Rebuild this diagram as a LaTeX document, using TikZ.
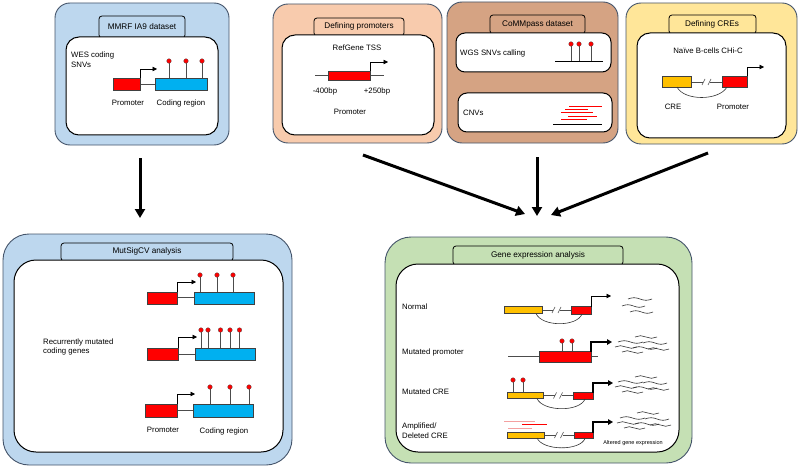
\documentclass[tikz,border=0pt]{standalone}
\usepackage{fontspec}
\setmainfont{Liberation Sans}
\usetikzlibrary{arrows.meta}
\definecolor{pblue}{HTML}{BDD7EE}
\definecolor{ppeach}{HTML}{F8CBAD}
\definecolor{pbrown}{HTML}{D5A383}
\definecolor{pyellow}{HTML}{FFE699}
\definecolor{pgreen}{HTML}{C5E0B4}
\definecolor{edgec}{HTML}{44546A}
\definecolor{gred}{HTML}{FF0000}
\definecolor{gblue}{HTML}{00B0F0}
\definecolor{gorange}{HTML}{FFC000}
\definecolor{cnvpink}{HTML}{F4A0A0}
\tikzset{
  panel/.style={draw=edgec, line width=0.9pt, rounded corners=15pt},
  bigpanel/.style={draw=edgec, line width=0.9pt, rounded corners=26pt},
  innerbox/.style={draw=black, fill=white, line width=1pt, rounded corners=13pt},
  biginner/.style={draw=black, fill=white, line width=1pt, rounded corners=22pt},
  tabbox/.style={draw=black, line width=0.8pt, rounded corners=3pt},
  redbox/.style={draw=black!75, fill=gred, line width=0.6pt},
  bluebox/.style={draw=black!75, fill=gblue, line width=0.6pt},
  orbox/.style={draw=black!75, fill=gorange, line width=0.6pt},
  conn/.style={draw=black!70, line width=0.6pt},
  stem/.style={draw=black!70, line width=0.6pt},
  tss/.style={draw=black, line width=0.6pt, -{Triangle[length=4.5pt,width=4.5pt]}},
  tssthick/.style={draw=black, line width=1.6pt, -{Triangle[length=5pt,width=5.5pt]}},
  flow/.style={draw=black, line width=3pt, -{Triangle[length=9pt,width=10pt]}},
  wave/.style={draw=black!80, line width=0.6pt},
  txt/.style={font=\fontsize{7.8}{9.6}\selectfont, inner sep=0pt},
  tabtxt/.style={font=\fontsize{8.2}{10}\selectfont, inner sep=0pt},
  tiny/.style={font=\fontsize{5.5}{6.5}\selectfont, inner sep=0pt}
}
\newcommand\lolli[3]{\draw[stem] (#1,#2) -- (#1,#3);
  \filldraw[fill=gred, draw=black!70, line width=0.3pt] (#1,#3) circle (2.3pt);}
\newcommand\brk[3]{%
  \draw[conn] (#1,#3) -- ({(#1+#2)/2-3.5},#3);
  \draw[conn] ({(#1+#2)/2+3.5},#3) -- (#2,#3);
  \draw[conn] ({(#1+#2)/2-4.5},{#3+3}) -- ({(#1+#2)/2-1.5},{#3-3});
  \draw[conn] ({(#1+#2)/2+1.5},{#3+3}) -- ({(#1+#2)/2+4.5},{#3-3});}
\newcommand\wv[3]{\draw[wave] (#1,#2) sin ++({#3/4},-1.3) cos ++({#3/4},1.3) sin ++({#3/4},1.3) cos ++({#3/4},-1.3);}
\newcommand\wvgroup[2]{%
  \wv{#1+20}{#2}{22}\wv{#1+3}{#2+5}{25}\wv{#1+28}{#2+6}{24}
  \wv{#1}{#2+10}{22}\wv{#1+18}{#2+11}{24}\wv{#1+33}{#2+12}{21}
  \wv{#1+7}{#2+15}{21}}
\begin{document}
\begin{tikzpicture}[x=1pt,y=-1pt]
\useasboundingbox (0,0) rectangle (800,468);

% ---------------- Panel 1: MMRF IA9 dataset
\draw[panel, fill=pblue] (55,3) rectangle (229,145);
\draw[tabbox, fill=pblue] (99,16) rectangle (185,38);
\draw[innerbox] (66,37) rectangle (218,135);
\node[tabtxt] (t1) at (142,27) {MMRF IA9 dataset};
\node[txt, anchor=west, align=left] (wes) at (71,60) {WES coding\\SNVs};
\draw[conn] (140,84) -- (155,84);
\draw[redbox] (113,78) rectangle (140,90);
\draw[bluebox] (155,78) rectangle (207,90);
\draw[tss] (140,78) -- (140,69) -- (157,69);
\lolli{169}{78}{61}\lolli{186}{78}{61}\lolli{202}{78}{61}
\node[txt] (p1prom) at (128,103) {Promoter};
\node[txt] (p1cod) at (181,103) {Coding region};

% ---------------- Panel 2: Defining promoters
\draw[panel, fill=ppeach] (273,4) rectangle (442,143);
\draw[tabbox, fill=ppeach] (314,18) rectangle (404,36);
\draw[innerbox] (282,35) rectangle (434,135);
\node[tabtxt] (t2) at (359,26.5) {Defining promoters};
\node[txt] (refg) at (357,48) {RefGene TSS};
\draw[conn] (315,75) -- (384,75);
\draw[redbox] (328,71) rectangle (370,80);
\draw[tss] (370,71) -- (370,62) -- (388,62);
\node[txt] (m400) at (325,91) {-400bp};
\node[txt] (p250) at (377,91) {+250bp};
\node[txt] (p2prom) at (350,112) {Promoter};

% ---------------- Panel 3: CoMMpass dataset
\draw[panel, fill=pbrown] (447,2) rectangle (618,143);
\draw[tabbox, fill=pbrown] (490,15) rectangle (585,34);
\draw[innerbox, rounded corners=9pt] (456,33) rectangle (611,72);
\draw[innerbox, rounded corners=9pt] (458,93) rectangle (612,132);
\node[tabtxt] (t3) at (537.5,24) {CoMMpass dataset};
\node[txt, anchor=west] (wgs) at (460,53) {WGS SNVs calling};
\draw[conn, draw=black] (555,61) -- (603,61);
\lolli{571}{61}{44}\lolli{579}{61}{44}\lolli{591}{61}{44}
\node[txt, anchor=west] (cnv) at (463,113) {CNVs};
\draw[draw=black, line width=0.7pt] (553,124) -- (602,124);
\draw[gred, line width=0.7pt] (569,106) -- (602,106);
\draw[gred, line width=0.7pt] (565,109) -- (588,109);
\draw[gred, line width=0.7pt] (561,112.5) -- (593,112.5);
\draw[gred, line width=0.7pt] (568,116) -- (597,116);
\draw[gred, line width=0.7pt] (561,119) -- (587,119);

% ---------------- Panel 4: Defining CREs
\draw[panel, fill=pyellow] (626,3) rectangle (797,144);
\draw[tabbox, fill=pyellow] (669,15) rectangle (756,34);
\draw[innerbox] (637,33) rectangle (786,138);
\node[tabtxt] (t4) at (712,24) {Defining CREs};
\node[txt] (naive) at (708,51) {Naïve B-cells CHi-C};
\brk{691}{722}{82}
\draw[orbox] (662,76) rectangle (691,87);
\draw[redbox] (722,76) rectangle (747,87);
\draw[tss] (747,76) -- (747,67) -- (764,67);
\draw[conn, draw=black!80] (677,87) .. controls (684,101) and (719,101) .. (727,87);
\node[txt] (cre4) at (673,107) {CRE};
\node[txt] (prom4) at (733,107) {Promoter};

% ---------------- flow arrows
\coordinate (a1s) at (140,158); \coordinate (a1e) at (140,218);
\coordinate (a2s) at (363,155); \coordinate (a2e) at (525,214);
\coordinate (a3s) at (537,157); \coordinate (a3e) at (537,216);
\coordinate (a4s) at (708,153); \coordinate (a4e) at (551,215);
\draw[flow] (a1s) -- (a1e);
\draw[flow] (a2s) -- (a2e);
\draw[flow] (a3s) -- (a3e);
\draw[flow] (a4s) -- (a4e);

% ---------------- Bottom-left: MutSigCV analysis
\draw[bigpanel, fill=pblue] (3,234) rectangle (292,465);
\draw[tabbox, fill=pblue] (61,243) rectangle (233,261);
\draw[biginner] (14,260) rectangle (283,452);
\node[tabtxt] (t5) at (147,251.5) {MutSigCV analysis};
\node[txt, anchor=west, align=left] (recur) at (43,347) {Recurrently mutated\\coding genes};
% row 1
\draw[conn] (177,297.5) -- (194,297.5);
\draw[redbox] (147,292) rectangle (177,304);
\draw[bluebox] (194,292) rectangle (254,304);
\draw[tss] (177,292) -- (177,282) -- (196,282);
\lolli{200}{292}{275}\lolli{217}{292}{275}\lolli{233}{292}{275}
% row 2
\draw[conn] (178,354) -- (195,354);
\draw[redbox] (147,348) rectangle (178,360);
\draw[bluebox] (195,348) rectangle (255,360);
\draw[tss] (178,348) -- (178,337) -- (197,337);
\lolli{201}{348}{330}\lolli{208}{348}{330}\lolli{220.5}{348}{330}\lolli{230}{348}{330}\lolli{239.5}{348}{330}
% row 3
\draw[conn] (177,410) -- (193,410);
\draw[redbox] (145,404) rectangle (177,417);
\draw[bluebox] (193,404) rectangle (253,417);
\draw[tss] (177,404) -- (177,394) -- (195,394);
\lolli{210}{404}{387}\lolli{230}{404}{387}\lolli{249}{404}{387}
\node[txt] (p5prom) at (163,430) {Promoter};
\node[txt] (p5cod) at (224,431) {Coding region};

% ---------------- Bottom-right: Gene expression analysis
\draw[bigpanel, fill=pgreen] (385,237) rectangle (692,463);
\draw[tabbox, fill=pgreen] (453,246) rectangle (623,265);
\draw[biginner] (396,264) rectangle (679,452);
\node[tabtxt] (t6) at (538,255) {Gene expression analysis};
% Normal
\node[txt, anchor=west] (norm) at (402,307) {Normal};
\brk{542}{571}{310}
\draw[orbox] (504,306.5) rectangle (542,313.5);
\draw[redbox] (571,306.5) rectangle (591,314);
\draw[tss] (591,306.5) -- (591,296) -- (611,296);
\draw[conn, draw=black!80] (536,313.5) .. controls (542,327) and (577,327) .. (582,314);
\wv{628}{299}{24}\wv{622}{306}{23}\wv{630}{312}{23}
% Mutated promoter
\node[txt, anchor=west] (mprom) at (402,352) {Mutated promoter};
\draw[conn] (508,356) -- (598,356);
\lolli{562}{351}{341}\lolli{572}{351}{341}
\draw[redbox] (539,351) rectangle (591,362);
\draw[tssthick] (591,351.5) -- (591,342) -- (612,342);
\wvgroup{615}{337}
% Mutated CRE
\node[txt, anchor=west] (mcre) at (402,392) {Mutated CRE};
\brk{543}{573}{395.5}
\lolli{513}{392}{380}\lolli{523}{392}{380}
\draw[orbox] (507,392) rectangle (543,398.5);
\draw[redbox] (573,392) rectangle (593,399);
\draw[tssthick] (593,392.5) -- (593,383) -- (613,383);
\draw[conn, draw=black!80] (537,398.5) .. controls (543,412) and (580,412) .. (585,399);
\wvgroup{615}{377}
% Amplified / Deleted CRE
\node[txt, anchor=west, align=left] (acre) at (402,430.5) {Amplified/\\Deleted CRE};
\draw[cnvpink, line width=0.8pt] (504,421) -- (535,421);
\draw[gred, line width=0.8pt] (522,424.5) -- (547,424.5);
\draw[cnvpink, line width=0.8pt] (508,428) -- (532,428);
\brk{544}{574}{435}
\draw[orbox] (507,432) rectangle (544,438);
\draw[redbox] (574,432) rectangle (593,438.5);
\draw[tssthick] (593,432.5) -- (593,422) -- (613,422);
\draw[conn, draw=black!80] (537,438) .. controls (543,451) and (580,451) .. (585,438.5);
\wvgroup{617}{413}
\node[tiny] (alt) at (633,443) {Altered gene expression};
\end{tikzpicture}
\end{document}
